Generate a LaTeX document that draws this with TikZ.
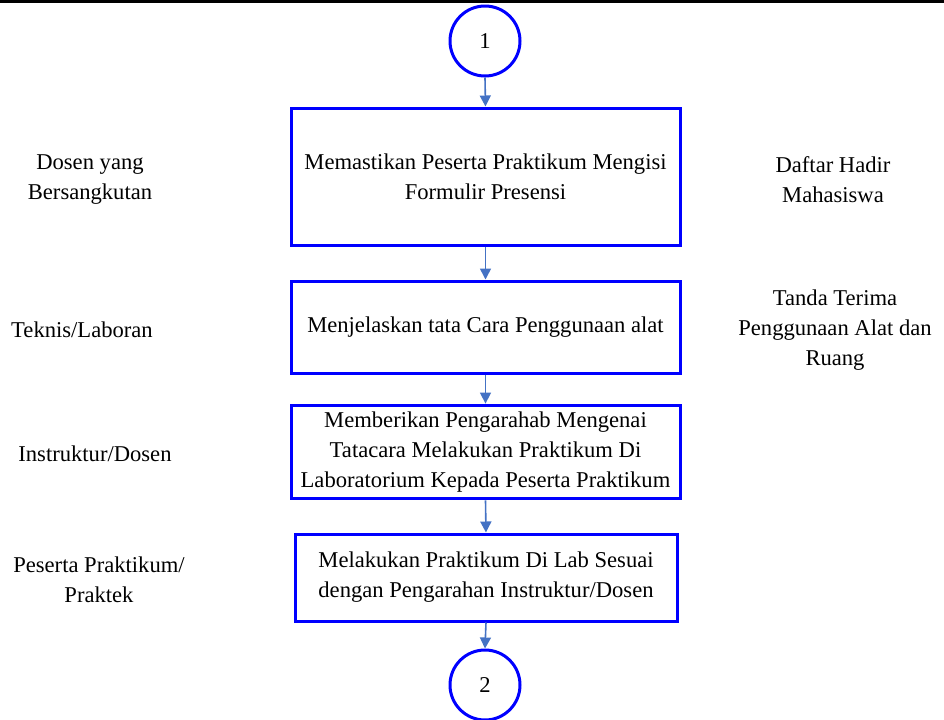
\documentclass[tikz,border=0pt]{standalone}
\usepackage{fontspec}
\setmainfont{Liberation Serif}
\usetikzlibrary{arrows.meta}

\definecolor{garis}{RGB}{0,0,255}
\definecolor{panah}{RGB}{68,114,196}

\tikzset{
    kotak/.style={draw=garis, line width=1.5pt, rectangle, align=center, minimum width=194.5pt},
    bulat/.style={draw=garis, line width=1.5pt, circle, minimum size=35pt, inner sep=0pt},
    ket/.style={align=center},
    alur/.style={draw=panah, line width=0.8pt, -{Triangle[length=5.5pt,width=5.5pt]}}
}

\begin{document}
\begin{tikzpicture}[x=0.5pt, y=-0.5pt, font=\fontsize{11.3}{15}\selectfont]
        %batas gambar mengikuti ukuran halaman
        \useasboundingbox (0,0) rectangle (944,719);
        \draw[line width=1.4pt] (0,1.4) -- (944,1.4);

        \node[bulat] (C1) at (485,41) {1};
        \node[kotak, minimum height=68.5pt] (B1) at (485.5,176.5)
            {Memastikan Peserta Praktikum Mengisi\\Formulir Presensi};
        \node[kotak, minimum height=46pt] (B2) at (485.5,327)
            {Menjelaskan tata Cara Penggunaan alat};
        \node[kotak, minimum height=46pt] (B3) at (485.5,452)
            {Memberikan Pengarahab Mengenai\\Tatacara Melakukan Praktikum Di\\Laboratorium Kepada Peserta Praktikum};
        \node[kotak, minimum width=191pt, minimum height=43.5pt] (B4) at (486,577.5)
            {Melakukan Praktikum Di Lab Sesuai\\dengan Pengarahan Instruktur/Dosen};
        \node[bulat] (C2) at (485,685) {2};

        \node[ket] (L1) at (90,180) {Dosen yang\\Bersangkutan};
        \node[ket] (L2) at (82,330) {Teknis/Laboran};
        \node[ket] (L3) at (95,454) {Instruktur/Dosen};
        \node[ket] (L4) at (99,580) {Peserta Praktikum/\\Praktek};
        \node[ket] (R1) at (833,180) {Daftar Hadir\\Mahasiswa};
        \node[ket] (R2) at (835,330) {Tanda Terima\\Penggunaan Alat dan\\Ruang};

        \foreach \a/\b in {C1/B1, B1/B2, B2/B3, B3/B4, B4/C2}
        {
            \draw[alur] (\a.south) -- (\b.north);
        };
\end{tikzpicture}
\end{document}
